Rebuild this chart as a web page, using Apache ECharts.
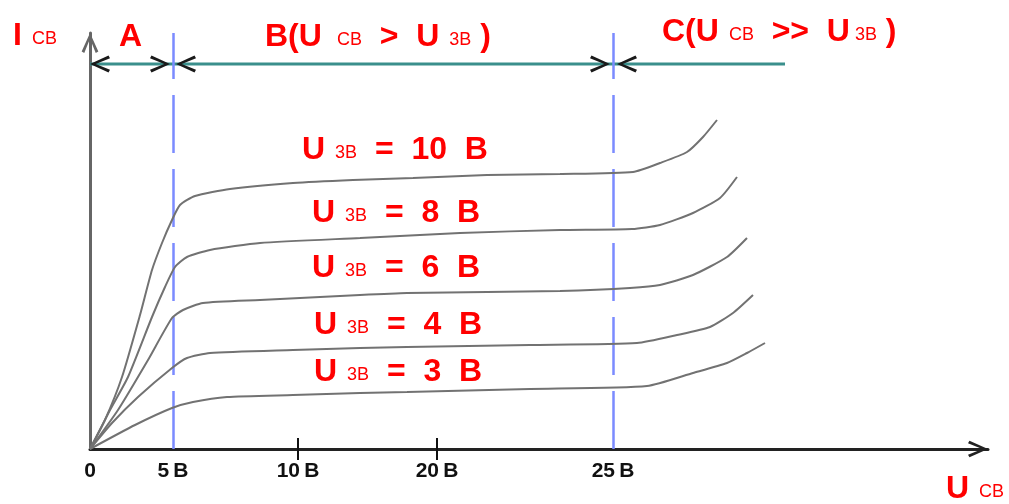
<!DOCTYPE html>
<html>
<head>
<meta charset="utf-8">
<script src="https://cdn.jsdelivr.net/npm/echarts@6/dist/echarts.min.js"></script>
<style>
  html, body { margin: 0; padding: 0; background: #fff; }
  #chart { width: 1009px; height: 504px; }
</style>
</head>
<body>
<div id="chart"></div>
<script>
// Collector characteristics I_CB(U_CB) for several U_3B values (schematic units).
const curveValues = [10, 8, 6, 4, 3];
const curve10 = [[0,0],[1.5,2.9],[3.2,7.2],[5.0,13.4],[6.2,17.9],[7.2,20.6],[8.2,22.9],[9.0,24.4],[10.5,25.3],[14,26],[20.3,26.6],[26.3,26.9],[32.3,27.1],[39.7,27.4],[47,27.5],[54.3,27.7],[57,28.6],[59.7,29.7],[61.3,31.2],[62.7,32.9]];
const curve8  = [[0,0],[2,3.9],[3.8,7.2],[6.2,13.2],[7.5,16.2],[8.5,18.2],[9.7,19.2],[12,19.9],[17,20.6],[27,21.1],[37,21.6],[47,21.9],[54.2,22.0],[57,22.4],[60.3,23.6],[63,25.1],[64.7,27.2]];
const curve6  = [[0,0],[2.8,3.9],[5.8,8.9],[8.2,13.1],[9.3,13.9],[11.3,14.6],[17,14.9],[27,15.4],[31.7,15.6],[39.7,15.7],[47,15.8],[54,16.1],[57,16.4],[60.3,17.4],[63.7,19.2],[65.7,21.1]];
const curve4  = [[0,0],[2.2,2.6],[4.8,5.2],[8.2,8.1],[9.7,9.1],[12,9.6],[20.3,9.9],[27,10.1],[31.7,10.2],[44,10.4],[54.7,10.6],[58.7,11.4],[62,12.2],[64.3,13.6],[66.3,15.4]];
const curve3  = [[0,0],[4.5,2.4],[8.2,4.1],[10.3,4.7],[13.7,5.2],[20.3,5.4],[27,5.6],[31.7,5.7],[44,6],[55.7,6.3],[60.3,7.6],[63.7,8.6],[65.7,9.6],[67.5,10.6]];
const curves = [curve10, curve8, curve6, curve4, curve3];

// U_CB axis: tick positions and their labels
const tickValues = [0, 8.3, 20.8, 34.7, 52.3];
const tickLabels = ['0', '5\u2009B', '10\u2009B', '20\u2009B', '25\u2009B'];
const tickMarks = [20.8, 34.7];

// Region boundaries (5 B and 25 B) and the A / B / C span arrows
const regionBounds = [8.3, 52.3];
const spanY = 38.5;
const spanLine = [[0, spanY], [69.5, spanY]];
const arrowLeftX = [0, 8.6, 52.7];
const arrowRightX = [8.0, 52.0];

const RED = '#ff0000';
const CHEV_LEFT = 'path://M0,9 L20,0 L21.6,2.8 L6.2,9 L21.6,15.2 L20,18 Z';
const CHEV_RIGHT = 'path://M21.6,9 L1.6,0 L0,2.8 L15.4,9 L0,15.2 L1.6,18 Z';
const CHEV_UP = 'path://M9,0 L18,20 L15.2,21.6 L9,6.2 L2.8,21.6 L0,20 Z';

const rich = {
  b: { fontFamily: 'Liberation Sans', fontSize: 32, fontWeight: 'bold', fill: RED, lineHeight: 34, verticalAlign: 'middle' },
  s: { fontFamily: 'Liberation Sans', fontSize: 18, fill: RED, lineHeight: 34, verticalAlign: 'middle', padding: [6, 0, 0, 0] }
};
function label(x, y, text) {
  return { type: 'text', x: x, y: y, silent: true,
    style: { text: text, rich: rich, align: 'left', verticalAlign: 'middle' } };
}

// Curve labels, one above each curve
const labelY = [150, 213, 268, 325, 372];
const labelX = [302, 312, 312, 314, 314];
const curveLabels = curveValues.map((v, i) =>
  label(labelX[i], labelY[i], '{b|U}{s|  3B}{b|  =  ' + v + '  B}'));

const chart = echarts.init(document.getElementById('chart'));
chart.setOption({
  animation: false,
  grid: { left: 90, right: 21, top: 33, bottom: 55 },
  xAxis: [{
    type: 'value', min: 0, max: 89.8,
    splitLine: { show: false },
    axisLine: { lineStyle: { color: '#222', width: 3 },
      symbol: ['none', CHEV_UP], symbolSize: [17, 20], symbolOffset: [0, -10] },
    axisTick: { show: true, customValues: tickMarks, length: 11, lineStyle: { color: '#111', width: 2 } },
    axisLabel: {
      customValues: tickValues, margin: 12,
      fontFamily: 'Liberation Sans', fontSize: 21, fontWeight: 'bold', color: '#111',
      formatter: function (v) {
        let best = 0;
        tickValues.forEach((t, i) => { if (Math.abs(t - v) < Math.abs(tickValues[best] - v)) best = i; });
        return tickLabels[best];
      }
    }
  }, {
    type: 'value', min: 0, max: 89.8, position: 'bottom',
    splitLine: { show: false }, axisLine: { show: false }, axisLabel: { show: false },
    axisTick: { show: true, inside: true, customValues: tickMarks, length: 11, lineStyle: { color: '#111', width: 2 } }
  }],
  yAxis: {
    type: 'value', min: 0, max: 41.6,
    splitLine: { show: false }, axisTick: { show: false }, axisLabel: { show: false },
    axisLine: { show: true, lineStyle: { color: '#666', width: 3 },
      symbol: ['none', CHEV_UP], symbolSize: [17, 20], symbolOffset: [0, -10] }
  },
  series: [
    {
      type: 'line', data: spanLine, showSymbol: false, silent: true, z: 3,
      lineStyle: { color: '#3a8f8c', width: 3 },
      markLine: {
        silent: true, symbol: 'none', label: { show: false },
        lineStyle: { color: '#7b8bff', width: 2.5, type: [58, 16], opacity: 1 },
        data: regionBounds.map(x => ({ xAxis: x }))
      }
    },
    {
      type: 'scatter', silent: true, z: 4,
      data: arrowLeftX.map(x => [x, spanY]),
      symbol: CHEV_LEFT, symbolSize: [20, 17], symbolOffset: [10, 0],
      itemStyle: { color: '#1a1a1a', opacity: 1 }
    },
    {
      type: 'scatter', silent: true, z: 4,
      data: arrowRightX.map(x => [x, spanY]),
      symbol: CHEV_RIGHT, symbolSize: [20, 17], symbolOffset: [-10, 0],
      itemStyle: { color: '#1a1a1a', opacity: 1 }
    }
  ].concat(curves.map((c, i) => ({
    type: 'line', name: 'U3B = ' + curveValues[i] + ' B', data: c,
    showSymbol: false, silent: true, z: 5,
    smooth: 0.2,
    lineStyle: { color: '#727272', width: 2 }
  }))),
  graphic: [
    label(13, 36, '{b|I}{s|  CB}'),
    label(119, 37, '{b|A}'),
    label(265, 37, '{b|B(U}{s|   CB}{b|  >  U}{s|  3B}{b| )}'),
    label(662, 32, '{b|C(U}{s|  CB}{b|  >>  U}{s| 3B}{b| )}'),
    label(946, 489, '{b|U}{s|  CB}')
  ].concat(curveLabels)
});
</script>
</body>
</html>
